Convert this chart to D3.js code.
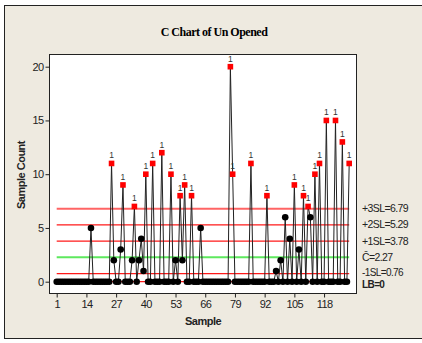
<!DOCTYPE html>
<html>
<head>
<meta charset="utf-8">
<script src="https://cdn.jsdelivr.net/npm/d3@7"></script>
<style>
  body { margin: 0; background: #fff; }
  text { font-family: "Liberation Sans", Arial, sans-serif; }
</style>
</head>
<body>
<div id="chart"></div>
<script>
// counts per sample, 1..129
const counts = [
  0,0,0,0,0,0,0,0,0,0,
  0,0,0,0,0,5,0,0,0,0,
  0,0,0,0,11,2,0,0,3,9,
  0,0,0,2,7,0,2,4,1,10,
  0,0,11,0,0,0,12,0,0,0,
  10,0,2,0,8,2,9,0,0,8,
  0,0,0,5,0,0,0,0,0,0,
  0,0,0,0,0,0,20,10,0,0,
  0,0,0,0,0,11,0,0,0,0,
  0,0,8,0,0,0,1,0,2,0,
  6,0,4,0,9,0,3,0,8,0,
  7,6,0,10,0,11,0,0,15,0,
  0,0,15,0,0,13,0,0,11
];
const xTicks = [1, 14, 27, 40, 53, 66, 79, 92, 105, 118];
const yTicks = [0, 5, 10, 15, 20];
const limitValues = [6.79, 5.29, 3.78, 2.27, 0.76, 0];
const limitLabels = ["+3SL=6.79", "+2SL=5.29", "+1SL=3.78", "C\u0304=2.27", "-1SL=0.76", "LB=0"];
const ucl = 6.79;

const W = 422, H = 343;
const svg = d3.select("#chart").append("svg")
    .attr("width", W)
    .attr("height", H);

// outer panel
svg.append("rect")
    .attr("x", 4.5).attr("y", 5.5)
    .attr("width", W).attr("height", 333)
    .attr("fill", "#eeeae0")
    .attr("stroke", "#222");

const plot = {left: 49.5, top: 54.5, right: 356.5, bottom: 293.5};

svg.append("rect")
    .attr("x", plot.left).attr("y", plot.top)
    .attr("width", plot.right - plot.left)
    .attr("height", plot.bottom - plot.top)
    .attr("fill", "#fff")
    .attr("stroke", "#222");

const x = d3.scaleLinear().domain([1, 129]).range([56.7, 349.2]);
const y = d3.scaleLinear().domain([0, 20]).range([281.7, 66.7]);

// title
svg.append("text")
    .attr("x", 214).attr("y", 36)
    .attr("text-anchor", "middle")
    .style("font-family", "'Liberation Serif', 'Times New Roman', serif")
    .style("font-weight", "bold")
    .style("font-size", "12px")
    .style("letter-spacing", "-0.5px")
    .text("C Chart of Un Opened");

// axes
const yAxis = svg.append("g")
    .attr("transform", `translate(${plot.left},0)`)
    .call(d3.axisLeft(y).tickValues(yTicks).tickSize(4).tickPadding(2));
const xAxis = svg.append("g")
    .attr("transform", `translate(0,${plot.bottom})`)
    .call(d3.axisBottom(x).tickValues(xTicks).tickSize(4).tickPadding(3));
[yAxis, xAxis].forEach(a => {
    a.select(".domain").remove();
    a.selectAll("line").attr("stroke", "#222");
    a.selectAll("text")
        .attr("fill", "#222")
        .style("font-size", "11px")
        .style("letter-spacing", "-0.6px");
});

svg.append("text")
    .attr("transform", "translate(25,175) rotate(-90)")
    .attr("text-anchor", "middle")
    .style("font-weight", "bold")
    .style("font-size", "11px")
    .style("letter-spacing", "-0.5px")
    .attr("fill", "#222")
    .text("Sample Count");

svg.append("text")
    .attr("x", 203).attr("y", 325)
    .attr("text-anchor", "middle")
    .style("font-weight", "bold")
    .style("font-size", "11px")
    .style("letter-spacing", "-0.5px")
    .attr("fill", "#222")
    .text("Sample");

// limit lines
svg.selectAll(".limit")
    .data(limitValues)
    .join("line")
    .attr("class", "limit")
    .attr("x1", x(1)).attr("x2", x(129))
    .attr("y1", d => y(d)).attr("y2", d => y(d))
    .attr("stroke", (d, i) => i === 3 ? "#5ee85e" : (i === 0 ? "#ff6464" : "#ff1a1a"))
    .attr("stroke-width", (d, i) => i === 3 ? 2 : (i === 0 ? 2 : 1.3));

const labelShift = [3.5, 3.5, 3.5, 3.5, 2.5, 6.3];
svg.selectAll(".lim-label")
    .data(limitValues)
    .join("text")
    .attr("class", "lim-label")
    .attr("x", 362)
    .attr("y", (d, i) => y(d) + labelShift[i])
    .style("font-size", (d, i) => i >= 4 ? "10px" : "10.5px")
    .style("letter-spacing", "-0.6px")
    .style("font-weight", (d, i) => i === 5 ? "bold" : "normal")
    .attr("fill", "#222")
    .text((d, i) => limitLabels[i]);

// data line
const line = d3.line()
    .x((d, i) => x(i + 1))
    .y(d => y(d));

svg.append("path")
    .attr("d", line(counts))
    .attr("fill", "none")
    .attr("stroke", "#222")
    .attr("stroke-width", 1);

const pts = counts.map((v, i) => ({s: i + 1, v: v}));

svg.selectAll(".dot")
    .data(pts.filter(d => d.v <= ucl))
    .join("circle")
    .attr("class", "dot")
    .attr("cx", d => x(d.s))
    .attr("cy", d => y(d.v))
    .attr("r", 3.3)
    .attr("fill", "#000");

const out = pts.filter(d => d.v > ucl);

svg.selectAll(".sq")
    .data(out)
    .join("rect")
    .attr("class", "sq")
    .attr("x", d => x(d.s) - 2.8)
    .attr("y", d => y(d.v) - 2.8)
    .attr("width", 5.6).attr("height", 5.6)
    .attr("fill", "#ff0000");

svg.selectAll(".flag")
    .data(out)
    .join("text")
    .attr("class", "flag")
    .attr("x", d => x(d.s))
    .attr("y", d => y(d.v) - 5)
    .attr("text-anchor", "middle")
    .style("font-size", "8.5px")
    .attr("fill", "#333")
    .text("1");
</script>
</body>
</html>
